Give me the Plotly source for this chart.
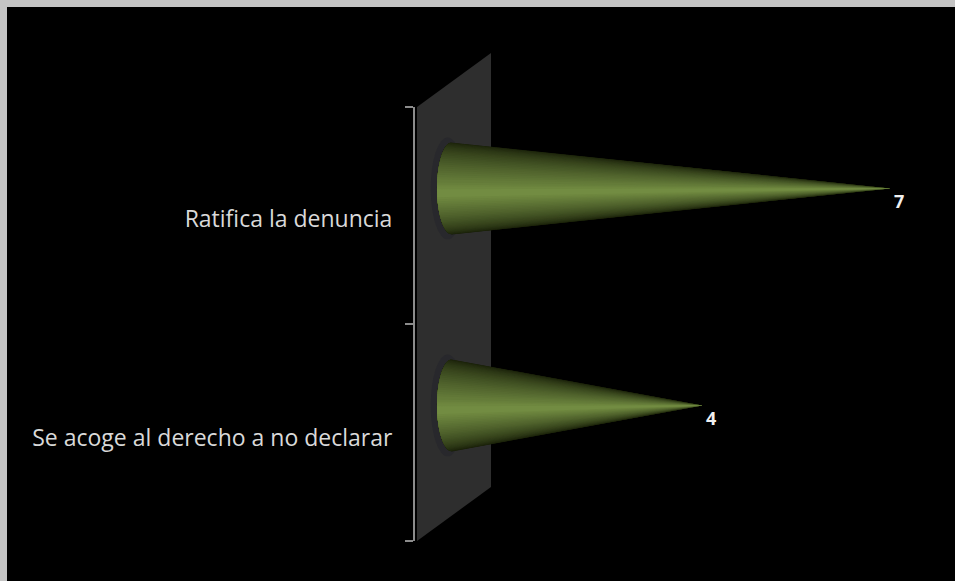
import numpy as np
import plotly.graph_objects as go

# bottom to top, as the axis counts them
categories = ["Se acoge al derecho a no declarar", "Ratifica la denuncia"]
values = [4, 7]

WIDTH, HEIGHT = 955, 581
LEFT, TOP, BOTTOM = 415, 107, 40
X_ZERO = 452      # pixel where value 0 sits
X_UNIT = 62.6     # pixels per unit of value

CONE_SHIFT = 0.125   # the 3d look lifts the cones above their category
CONE_RY = 0.212
CONE_RX = 0.24

EDGE = np.array([26, 33, 10])
CORE = np.array([114, 140, 66])


def PaperX(px):
    return (px - LEFT) / (WIDTH - LEFT)


def PaperY(py):
    return 1 - (py - TOP) / (HEIGHT - TOP - BOTTOM)


def AddCone(fig, val, ypos):
    # nested slices that all end at the tip, dark outside and light in the middle
    levels = 32
    for i in range(levels):
        frac = i / (levels - 1)
        half = (np.pi / 2) * (1 - frac * 0.94)
        mid = 0.10 * frac
        t = np.linspace(mid - half, mid + half, 30)
        xs = -CONE_RX * np.cos(t)
        ys = ypos - CONE_RY * np.sin(t)
        col = EDGE + (CORE - EDGE) * frac ** 1.2
        fig.add_trace(go.Scatter(
            x=[val, *xs, val],
            y=[ypos, *ys, ypos],
            mode='lines',
            fill='toself',
            fillcolor='rgb(%d,%d,%d)' % tuple(col),
            line=dict(width=0),
            hoverinfo='skip',
            showlegend=False
        ))


shapes = [
    # back wall of the 3d chart
    dict(type='path', xref='paper', yref='paper', layer='below', line=dict(width=0),
         fillcolor='#2e2e2e',
         path='M %f,%f L %f,%f L %f,%f L %f,%f Z' % (
             PaperX(417), PaperY(107), PaperX(491), PaperY(53),
             PaperX(491), PaperY(487), PaperX(417), PaperY(541))),
    # grey frame, top and left only
    dict(type='rect', xref='paper', yref='paper', line=dict(width=0), fillcolor='#c4c4c4',
         x0=PaperX(0), x1=PaperX(WIDTH), y0=PaperY(0), y1=PaperY(7)),
    dict(type='rect', xref='paper', yref='paper', line=dict(width=0), fillcolor='#c4c4c4',
         x0=PaperX(0), x1=PaperX(7), y0=PaperY(0), y1=PaperY(HEIGHT)),
]

fig = go.Figure()
annotations = []
for i, val in enumerate(values):
    # soft shadow the cone leaves on the wall
    shapes.append(dict(type='circle', xref='x', yref='y', layer='below', line=dict(width=0),
                       fillcolor='#28282c',
                       x0=-0.34, x1=0.2,
                       y0=i + CONE_SHIFT - 0.235, y1=i + CONE_SHIFT + 0.235))
    AddCone(fig, val, i + CONE_SHIFT)
    annotations.append(dict(
        x=val, y=i, xref='x', yref='y',
        text='<b>%d</b>' % val,
        showarrow=False,
        xshift=9, yshift=15,
        font=dict(family='Open Sans', size=18, color='#f0f0f0')
    ))

fig.update_layout(
    width=WIDTH,
    height=HEIGHT,
    margin=dict(l=LEFT, r=0, t=TOP, b=BOTTOM, pad=0),
    paper_bgcolor='black',
    plot_bgcolor='rgba(0,0,0,0)',
    showlegend=False,
    shapes=shapes,
    annotations=annotations,
    font=dict(family='Open Sans', size=23, color='#d9d9d9'),
    xaxis=dict(
        visible=False,
        range=[(LEFT - X_ZERO) / X_UNIT, (WIDTH - X_ZERO) / X_UNIT]
    ),
    yaxis=dict(
        range=[-0.5, 1.5],
        tickmode='array',
        tickvals=[-0.025, 0.985],
        ticktext=categories,
        ticks='',
        ticklabelstandoff=16,
        showgrid=False,
        zeroline=False,
        showline=True,
        linecolor='#8c8c8c',
        linewidth=2,
        minor=dict(tickmode='array', tickvals=[-0.5, 0.5, 1.5], ticks='outside',
                   ticklen=8, tickwidth=1.5, tickcolor='#8c8c8c', showgrid=False)
    )
)

fig.write_html("out.html", config=dict(displayModeBar=False),
               post_script="document.body.style.margin = '0';")
